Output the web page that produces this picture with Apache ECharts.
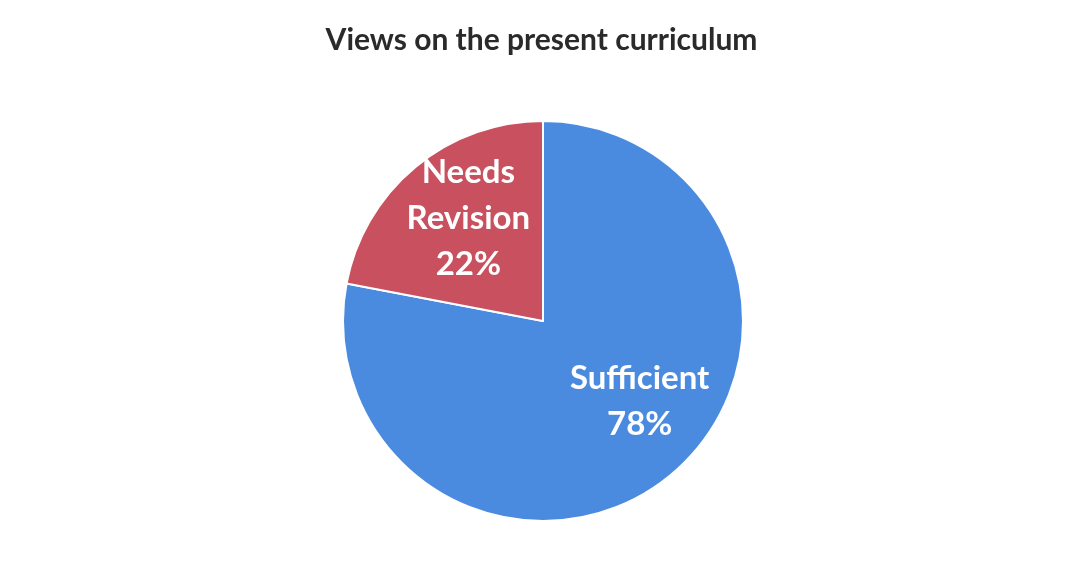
<!DOCTYPE html>
<html>
<head>
<meta charset="utf-8">
<script src="https://cdn.jsdelivr.net/npm/echarts@6/dist/echarts.min.js"></script>
<style>
html,body{margin:0;padding:0;background:#fff;}
#chart{width:1083px;height:580px;}
</style>
</head>
<body>
<div id="chart"></div>
<script>
const categories = ["Sufficient", "Needs\nRevision"];
const values = [78, 22];
const colors = ["#4a8be0", "#c8505f"];
const labelShift = [[31, 1], [-9, -23]];

const chart = echarts.init(document.getElementById('chart'), null, {renderer: 'canvas'});
chart.setOption({
  backgroundColor: '#ffffff',
  title: {
    text: 'Views on the present curriculum',
    left: 'center',
    top: 20,
    textStyle: {fontFamily: 'Lato', fontWeight: 'bold', fontSize: 30, color: '#2a2a2a'}
  },
  series: [{
    type: 'pie',
    center: [543, 321],
    radius: 200,
    startAngle: 90,
    clockwise: true,
    animation: false,
    itemStyle: {borderColor: '#ffffff', borderWidth: 2},
    label: {
      position: 'inside',
      formatter: p => p.name + '\n' + p.value + '%',
      fontFamily: 'Lato',
      fontWeight: 'bold',
      fontSize: 33,
      lineHeight: 46,
      color: '#ffffff'
    },
    labelLine: {show: false},
    emphasis: {disabled: true},
    labelLayout: function (params) {
      const s = labelShift[params.dataIndex];
      return {dx: s[0], dy: s[1]};
    },
    data: categories.map((c, i) => ({name: c, value: values[i], itemStyle: {color: colors[i]}}))
  }]
});
</script>
</body>
</html>
